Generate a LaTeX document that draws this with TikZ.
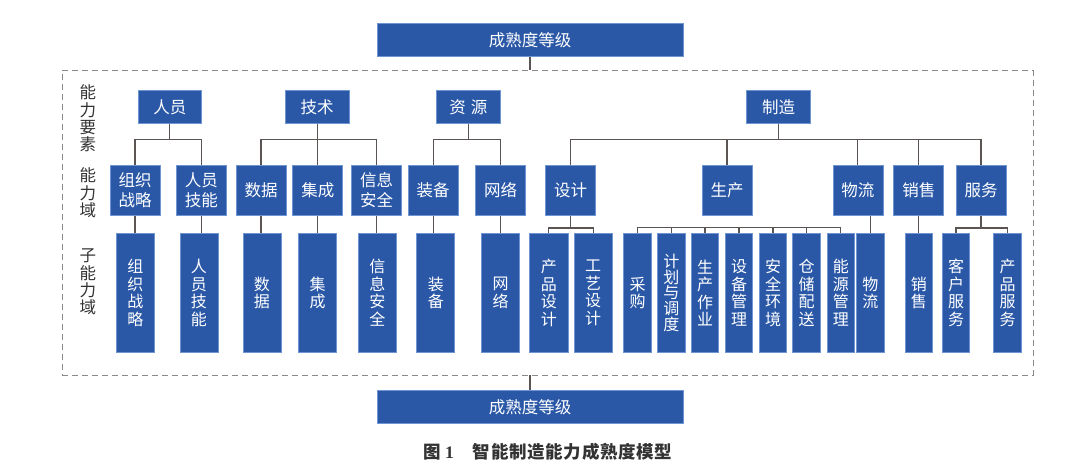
\documentclass[tikz,border=0pt]{standalone}
\usepackage{fontspec}
\setmainfont{Noto Sans CJK SC}
\newfontfamily\numfont{Liberation Serif}
\definecolor{boxblue}{HTML}{2A58A7}
\definecolor{boxedge}{HTML}{6F95D2}
\definecolor{linegray}{HTML}{5A5452}
\definecolor{framegray}{HTML}{8A8A8A}
\definecolor{labelgray}{HTML}{333333}
\tikzset{
  bluebox/.style={draw=boxedge, fill=boxblue, text=white, inner sep=0pt, line width=0.7pt, align=center},
  topbox/.style={bluebox, minimum width=305.8pt, minimum height=33.4pt, font=\fontsize{16.5}{20}\selectfont},
  lvlone/.style={bluebox, minimum width=63.5pt, minimum height=33pt, font=\fontsize{16.5}{20}\selectfont},
  lvltwo/.style={bluebox, minimum width=50pt, minimum height=50pt, font=\fontsize{16.5}{20.5}\selectfont},
  lvlthree/.style={bluebox, minimum width=38pt, minimum height=118pt, font=\fontsize{16}{17.5}\selectfont},
  lvlthin/.style={lvlthree, minimum width=27.5pt},
  sidelabel/.style={text=labelgray, inner sep=0pt, align=center, font=\fontsize{16.5}{17.3}\selectfont},
  conn/.style={draw=linegray, line width=1.1pt},
}
\begin{document}
\begin{tikzpicture}[x=1pt,y=-1pt]
\useasboundingbox (0,0) rectangle (1080,468);
% frame
\node[draw=framegray, dashed, dash pattern=on 6pt off 4pt, line width=0.9pt, minimum width=971pt, minimum height=304.4pt, inner sep=0pt] (frame) at (547.5,222.8) {};
% top / bottom
\node[topbox] (t1) at (530,40.1) {成熟度等级};
\node[topbox] (b1) at (530,406.85) {成熟度等级};
% side labels
\node[sidelabel] (la) at (87.8,118.5) {能\\力\\要\\素};
\node[sidelabel] (lb) at (87.8,193) {能\\力\\域};
\node[sidelabel] (lc) at (87.8,282) {子\\能\\力\\域};
% level 1
\node[lvlone] (p1) at (169.9,106.8) {人员};
\node[lvlone] (p2) at (317.2,106.8) {技术};
\node[lvlone] (p3) at (468.4,106.8) {资\hspace{5pt}源};
\node[lvlone] (p4) at (778.5,106.8) {制造};
% level 2
\node[lvltwo] (c1) at (135,190.25) {组织\\战略};
\node[lvltwo] (c2) at (201.3,190.25) {人员\\技能};
\node[lvltwo] (c3) at (261,190.25) {数据};
\node[lvltwo] (c4) at (317.8,190.25) {集成};
\node[lvltwo] (c5) at (376.5,190.25) {信息\\安全};
\node[lvltwo] (c6) at (433.2,190.25) {装备};
\node[lvltwo] (c7) at (500.5,190.25) {网络};
\node[lvltwo] (c8) at (570.6,190.25) {设计};
\node[lvltwo] (c9) at (727,190.25) {生产};
\node[lvltwo] (c10) at (857.9,190.25) {物流};
\node[lvltwo] (c11) at (918.8,190.25) {销售};
\node[lvltwo] (c12) at (981,190.25) {服务};
% level 3
\node[lvlthree] (s1) at (135.3,292.85) {组\\织\\战\\略};
\node[lvlthree] (s2) at (198.9,292.85) {人\\员\\技\\能};
\node[lvlthree] (s3) at (261.9,292.85) {数\\据};
\node[lvlthree] (s4) at (317.5,292.85) {集\\成};
\node[lvlthree] (s5) at (377.3,292.85) {信\\息\\安\\全};
\node[lvlthree] (s6) at (435.8,292.85) {装\\备};
\node[lvlthree] (s7) at (500.5,292.85) {网\\络};
\node[lvlthree, minimum width=38.6pt] (s8) at (548.9,292.85) {产\\品\\设\\计};
\node[lvlthree, minimum width=37.6pt] (s9) at (593.2,292.85) {工\\艺\\设\\计};
\node[lvlthin] (s10) at (637.5,292.85) {采\\购};
\node[lvlthin, font=\fontsize{16}{15.9}\selectfont] (s11) at (671.4,292.85) {计\\划\\与\\调\\度};
\node[lvlthin] (s12) at (705,292.85) {生\\产\\作\\业};
\node[lvlthin] (s13) at (739,292.85) {设\\备\\管\\理};
\node[lvlthin] (s14) at (773,292.85) {安\\全\\环\\境};
\node[lvlthin] (s15) at (806.5,292.85) {仓\\储\\配\\送};
\node[lvlthin] (s16) at (840.8,292.85) {能\\源\\管\\理};
\node[lvlthin] (s17) at (870.4,292.85) {物\\流};
\node[lvlthin] (s18) at (918.8,292.85) {销\\售};
\node[lvlthin] (s19) at (956,292.85) {客\\户\\服\\务};
\node[lvlthin] (s20) at (1007.5,292.85) {产\\品\\服\\务};
% caption
\node[text=labelgray, inner sep=0pt, font=\fontsize{17.5}{20}\selectfont\bfseries] (cap) at (548,452) {图\hspace{4pt}{\numfont\bfseries 1}\hspace{19pt}{\addfontfeatures{LetterSpace=4}智能制造能力成熟度模型}};
% connectors: top / bottom
\draw[conn] (t1.south) -- (t1.south |- frame.north);
\draw[conn] (frame.south -| b1.north) -- (b1.north);
% level 1 -> level 2
\draw[conn] (p1.south) -- ++(0,15.5) -| (c1.north);
\draw[conn] (p1.south) -- ++(0,15.5) -| (c2.north);
\draw[conn] (p2.south) -- ++(0,15.5) -| (c3.north);
\draw[conn] (p2.south) -- ++(0,15.5) -| (c4.north);
\draw[conn] (p2.south) -- ++(0,15.5) -| (c5.north);
\draw[conn] (p3.south) -- ++(0,15.5) -| (c6.north);
\draw[conn] (p3.south) -- ++(0,15.5) -| (c7.north);
\draw[conn] (p4.south) -- ++(0,15.5) -| (c8.north);
\draw[conn] (p4.south) -- ++(0,15.5) -| (c9.north);
\draw[conn] (p4.south) -- ++(0,15.5) -| (c10.north);
\draw[conn] (p4.south) -- ++(0,15.5) -| (c11.north);
\draw[conn] (p4.south) -- ++(0,15.5) -| (c12.north);
% level 2 -> level 3
\draw[conn] (c1.south) -- (c1.south |- s1.north);
\draw[conn] (c2.south) -- (c2.south |- s2.north);
\draw[conn] (c3.south) -- (c3.south |- s3.north);
\draw[conn] (c4.south) -- (c4.south |- s4.north);
\draw[conn] (c5.south) -- (c5.south |- s5.north);
\draw[conn] (c6.south) -- (c6.south |- s6.north);
\draw[conn] (c7.south) -- (c7.south |- s7.north);
\draw[conn] (c8.south) -- ++(0,12.4) -| (s8.north);
\draw[conn] (c8.south) -- ++(0,12.4) -| (s9.north);
\draw[conn] (s10.north) -- ++(0,-6.2) -| (s16.north);
\draw[conn] (s11.north) -- ++(0,-6.2);
\draw[conn] (s12.north) -- ++(0,-6.2);
\draw[conn] (s13.north) -- ++(0,-6.2);
\draw[conn] (s14.north) -- ++(0,-6.2);
\draw[conn] (s15.north) -- ++(0,-6.2);
\draw[conn] (s17.north) -- (s17.north |- c10.south);
\draw[conn] (c11.south) -- (s18.north);
\draw[conn] (c12.south) -- ++(0,12.4) -| (s19.north);
\draw[conn] (c12.south) -- ++(0,12.4) -| (s20.north);
\end{tikzpicture}
\end{document}
